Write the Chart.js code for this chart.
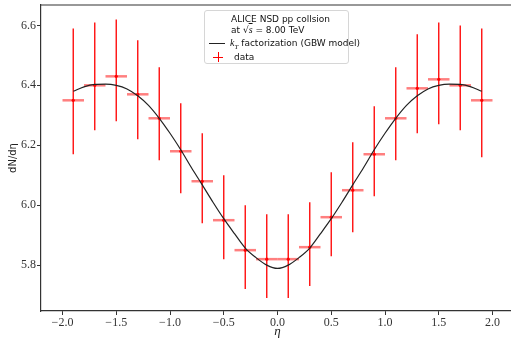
<!DOCTYPE html>
<html>
<head>
<meta charset="utf-8">
<script src="https://cdn.jsdelivr.net/npm/chart.js@4.4.0/dist/chart.umd.min.js"></script>
<style>
  html, body { margin: 0; padding: 0; background: #fff; overflow: hidden; }
  #wrap { position: relative; width: 511px; height: 339px; overflow: hidden; }
  #legend { position: absolute; left: 204px; top: 10px; width: 145px; height: 54px;
    border: 1px solid #d6d6d6; border-radius: 3px; background: rgba(255,255,255,0.85);
    font-family: "DejaVu Sans", sans-serif; font-size: 9px; color: #111; box-sizing: border-box; }
  #legend .t { position: absolute; left: 26px; white-space: nowrap; line-height: 10px; }
  .serif { font-family: "Liberation Serif", serif; font-style: italic; font-size: 10px; }
</style>
</head>
<body>
<div id="wrap">
<canvas id="c" width="518" height="339"></canvas>
<div id="legend">
  <div class="t" style="top:3px;">ALICE NSD pp collsion</div>
  <div class="t" style="top:14px;">at √<span class="serif" style="text-decoration:overline;">s</span> = 8.00 TeV</div>
  <div style="position:absolute;left:4px;top:32px;width:16px;height:0;border-top:1.3px solid #222;"></div>
  <div class="t" style="top:27px;left:25px;"><span class="serif">k<sub style="font-size:7px;">T</sub></span> factorization (GBW model)</div>
  <div style="position:absolute;left:8px;top:45.5px;width:10px;height:0;border-top:1.5px solid #f00;"></div>
  <div style="position:absolute;left:12.5px;top:41px;width:0;height:10px;border-left:1.5px solid #f00;"></div>
  <div class="t" style="top:41px;left:29px;">data</div>
</div>
</div>
<script>
// ---- data ----
const eta = [-1.9,-1.7,-1.5,-1.3,-1.1,-0.9,-0.7,-0.5,-0.3,-0.1,0.1,0.3,0.5,0.7,0.9,1.1,1.3,1.5,1.7,1.9];
const dNdEta = [6.35,6.40,6.43,6.37,6.29,6.18,6.08,5.95,5.85,5.82,5.82,5.86,5.96,6.05,6.17,6.29,6.39,6.42,6.40,6.35];
const errUp = [0.24,0.21,0.19,0.18,0.17,0.16,0.16,0.15,0.15,0.15,0.15,0.15,0.15,0.16,0.16,0.17,0.18,0.19,0.20,0.24];
const errDown = [0.18,0.15,0.15,0.15,0.14,0.14,0.14,0.13,0.13,0.13,0.13,0.13,0.13,0.14,0.14,0.14,0.15,0.15,0.15,0.19];
const etaHalfBin = [0.1,0.1,0.1,0.1,0.1,0.1,0.1,0.1,0.1,0.1,0.1,0.1,0.1,0.1,0.1,0.1,0.1,0.1,0.1,0.1];

const modelEta = [-1.9,-1.8,-1.7,-1.6,-1.5,-1.4,-1.3,-1.2,-1.1,-1.0,-0.9,-0.8,-0.7,-0.6,-0.5,-0.4,-0.3,-0.2,-0.1,0.0,
                  0.1,0.2,0.3,0.4,0.5,0.6,0.7,0.8,0.9,1.0,1.1,1.2,1.3,1.4,1.5,1.6,1.7,1.8,1.9];
const modelVal = [6.380,6.395,6.403,6.404,6.400,6.388,6.365,6.333,6.290,6.240,6.185,6.125,6.068,6.010,5.955,5.905,5.857,5.825,5.800,5.789,
                  5.800,5.825,5.857,5.905,5.955,6.010,6.068,6.125,6.185,6.240,6.290,6.333,6.365,6.388,6.400,6.404,6.403,6.395,6.380];

const xTicks = [-2.0,-1.5,-1.0,-0.5,0.0,0.5,1.0,1.5,2.0];
const yTicks = [5.8,6.0,6.2,6.4,6.6];

const fmt = v => (Math.round(v*10)/10).toFixed(1).replace('-', '\u2212');

const errorBars = {
  id: 'errorBars',
  beforeDatasetsDraw(chart) {
    const {ctx, scales: {x, y}} = chart;
    ctx.save();
    eta.forEach((e, i) => {
      const px = x.getPixelForValue(e);
      const py = y.getPixelForValue(dNdEta[i]);
      ctx.strokeStyle = 'rgba(255,0,0,0.5)';
      ctx.lineWidth = 2.5;
      ctx.beginPath();
      ctx.moveTo(x.getPixelForValue(e - etaHalfBin[i]), py);
      ctx.lineTo(x.getPixelForValue(e + etaHalfBin[i]), py);
      ctx.stroke();
      ctx.strokeStyle = 'rgba(255,0,0,0.95)';
      ctx.lineWidth = 1.4;
      ctx.beginPath();
      ctx.moveTo(px, y.getPixelForValue(dNdEta[i] + errUp[i]));
      ctx.lineTo(px, y.getPixelForValue(dNdEta[i] - errDown[i]));
      ctx.stroke();
    });
    ctx.restore();
  },
  afterDraw(chart) {
    const {ctx, chartArea: a} = chart;
    ctx.save();
    ctx.strokeStyle = '#333';
    ctx.lineWidth = 1.2;
    ctx.beginPath();
    ctx.moveTo(a.left, a.top);
    ctx.lineTo(a.right + 4, a.top);
    ctx.stroke();
    ctx.restore();
  }
};

new Chart(document.getElementById('c'), {
  type: 'scatter',
  data: {
    datasets: [
      {
        label: 'data',
        data: eta.map((e, i) => ({x: e, y: dNdEta[i]})),
        pointRadius: 1.6,
        pointBackgroundColor: '#f00',
        pointBorderWidth: 0,
        showLine: false,
        order: 2
      },
      {
        label: 'model',
        data: modelEta.map((e, i) => ({x: e, y: modelVal[i]})),
        showLine: true,
        borderColor: '#222',
        borderWidth: 1.2,
        pointRadius: 0,
        tension: 0.4,
        cubicInterpolationMode: 'monotone',
        order: 1
      }
    ]
  },
  options: {
    responsive: false,
    animation: false,
    layout: { padding: { top: 5, right: 0, left: 0, bottom: 0 } },
    plugins: { legend: { display: false }, tooltip: { enabled: false } },
    scales: {
      x: {
        type: 'linear', min: -2.2, max: 2.2,
        afterBuildTicks: s => { s.ticks = xTicks.map(v => ({value: v})); },
        afterFit: s => { s.height = 28; s.paddingLeft = 0; s.paddingRight = 0; },
        grid: { display: true, drawOnChartArea: false, tickLength: 4, color: '#333', tickWidth: 1 },
        border: { display: true, color: '#333', width: 1.2 },
        ticks: { callback: fmt, padding: 1, color: '#333', maxRotation: 0,
                 font: { family: 'Liberation Serif', size: 12 } },
        title: { display: true, text: 'η', color: '#222', padding: 0,
                 font: { family: 'Liberation Serif', style: 'italic', size: 13 } }
      },
      y: {
        type: 'linear', min: 5.647, max: 6.668,
        afterBuildTicks: s => { s.ticks = yTicks.map(v => ({value: v})); },
        afterFit: s => { s.width = 41; s.paddingTop = 0; s.paddingBottom = 0; },
        grid: { display: true, drawOnChartArea: false, tickLength: 4, color: '#333', tickWidth: 1 },
        border: { display: true, color: '#333', width: 1.2 },
        ticks: { callback: fmt, padding: 1, color: '#333',
                 font: { family: 'Liberation Serif', size: 12 } },
        title: { display: true, text: 'dN/dη', color: '#222', padding: 7,
                 font: { family: 'DejaVu Sans', size: 10 } }
      }
    }
  },
  plugins: [errorBars]
});
</script>
</body>
</html>
